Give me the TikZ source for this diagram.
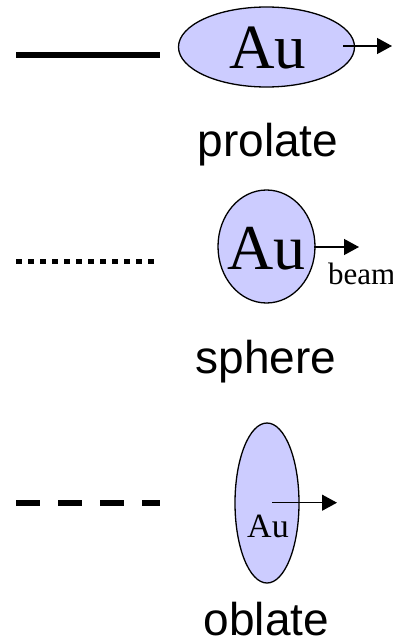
\documentclass[tikz,border=0pt]{standalone}
\usepackage{fontspec}
\setmainfont{Liberation Serif}
\newfontfamily\shapefont{Liberation Sans}
\usepackage{tikz}
\usetikzlibrary{arrows.meta,shapes.geometric,positioning}
\definecolor{goldfill}{HTML}{CCCCFF}
\tikzset{
  nucleus/.style={ellipse,draw=black,line width=1.3pt,fill=goldfill,inner sep=0pt},
  beamarrow/.style={-{Triangle[length=15pt,width=16pt]},line width=1.3pt},
  shapelabel/.style={font=\shapefont\fontsize{46}{46}\selectfont,anchor=base,inner sep=0pt},
  legendline/.style={line width=5.8pt}
}
\begin{document}
\begin{tikzpicture}[x=1pt,y=-1pt,>=Stealth]
\useasboundingbox (0,0) rectangle (392,642);
% prolate nucleus
\node[nucleus,minimum width=176pt,minimum height=80pt] (pro) at (266.5,47) {};
\node[font=\fontsize{63}{63}\selectfont] (proAu) at (268,48) {Au};
\coordinate (proS) at (343,46);
\coordinate (proE) at (392,46);
\draw[beamarrow] (proS) -- (proE);
\node[shapelabel] (proLab) at (268,156) {prolate};
\coordinate (solidA) at (16,54.7); \coordinate (solidB) at (160,54.7);
\draw[legendline] (solidA) -- (solidB);
% sphere
\node[nucleus,minimum width=97pt,minimum height=113pt] (sph) at (266.5,246.5) {};
\node[font=\fontsize{64}{64}\selectfont] (sphAu) at (266.5,248.5) {Au};
\coordinate (sphS) at (314,247);
\coordinate (sphE) at (359,247);
\draw[beamarrow] (sphS) -- (sphE);
\node[font=\fontsize{31}{31}\selectfont,anchor=base west,inner sep=0pt] (beam) at (328,284) {beam};
\node[shapelabel] (sphLab) at (266,373) {sphere};
\coordinate (dotA) at (16,261.5); \coordinate (dotB) at (154,261.5);
\draw[legendline,dash pattern=on 5.7pt off 6.3pt] (dotA) -- (dotB);
% oblate nucleus
\node[nucleus,minimum width=64pt,minimum height=160pt] (obl) at (267,503) {};
\node[font=\fontsize{34}{34}\selectfont] (oblAu) at (268,526.5) {Au};
\coordinate (oblS) at (272,502.7);
\coordinate (oblE) at (337,502.7);
\draw[beamarrow] (oblS) -- (oblE);
\node[shapelabel] (oblLab) at (266.5,635) {oblate};
\coordinate (dashA) at (16,503); \coordinate (dashB) at (160,503);
\draw[legendline,dash pattern=on 24pt off 18pt] (dashA) -- (dashB);
\end{tikzpicture}
\end{document}
